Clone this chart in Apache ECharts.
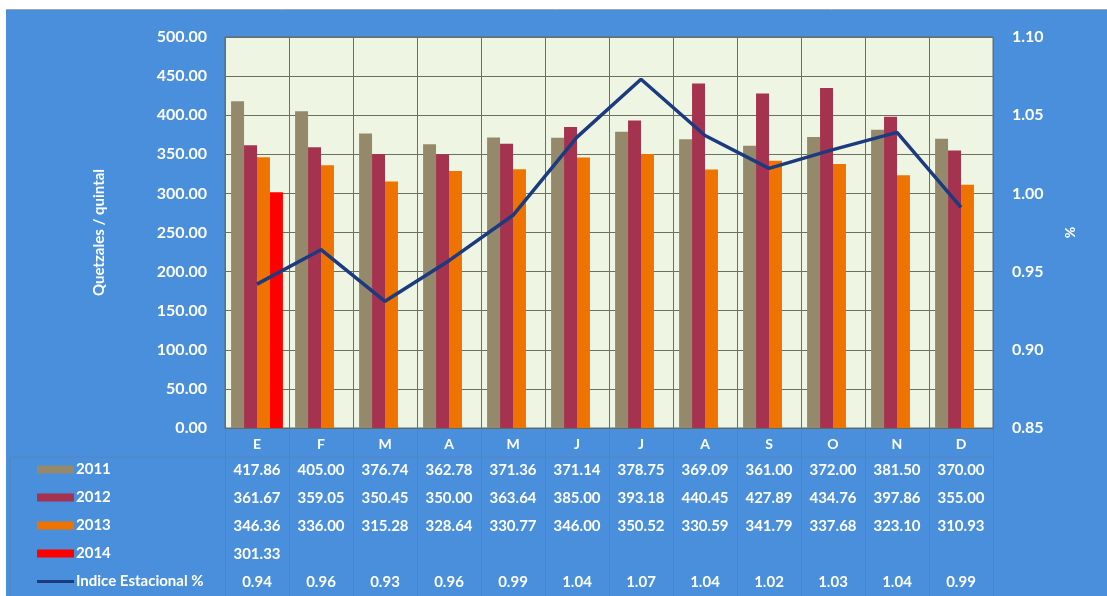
<!DOCTYPE html>
<html>
<head>
<meta charset="utf-8">
<script src="https://cdn.jsdelivr.net/npm/echarts@6/dist/echarts.min.js"></script>
<style>
html,body{margin:0;padding:0;background:#ffffff;}
#c{width:1107px;height:596px;}
</style>
</head>
<body>
<div id="c"></div>
<script>
const months = ['E','F','M','A','M','J','J','A','S','O','N','D'];
const s2011 = [417.86,405.00,376.74,362.78,371.36,371.14,378.75,369.09,361.00,372.00,381.50,370.00];
const s2012 = [361.67,359.05,350.45,350.00,363.64,385.00,393.18,440.45,427.89,434.76,397.86,355.00];
const s2013 = [346.36,336.00,315.28,328.64,330.77,346.00,350.52,330.59,341.79,337.68,323.10,310.93];
const s2014 = [301.33,null,null,null,null,null,null,null,null,null,null,null];
const indice = [0.942,0.964,0.931,0.957,0.986,1.036,1.073,1.037,1.016,1.028,1.039,0.991];
const seriesNames = ['2011','2012','2013','2014','Indice Estacional %'];
const leftTicks = {min:0,max:500,interval:50};
const rightTicks = {min:0.85,max:1.10,interval:0.05};

const FONT = 'Lato';
const colors = ['#948a6b','#a5334f','#ee7300','#ff0000','#1c3a80'];
const rowCenters = [471,499,527,555,583];

const fmt2 = v => (v === null || v === undefined) ? '' : v.toFixed(2);
const rows = [s2011,s2012,s2013,s2014,indice];

const xAxes = [{
  type:'category', data: months, position:'bottom', gridIndex:0,
  axisLine:{show:true,lineStyle:{color:'#5f6b6e',width:1}},
  axisTick:{show:true,length:168,lineStyle:{color:'rgba(110,115,150,0.55)',width:1}},
  axisLabel:{color:'#ffffff',fontFamily:FONT,fontWeight:'bold',fontSize:14,margin:9},
  splitLine:{show:true,lineStyle:{color:'#6d6d60',width:1}}
}];
rows.forEach((r,i)=>{
  xAxes.push({
    type:'category', data: r.map(fmt2), position:'bottom', gridIndex:0,
    offset: rowCenters[i] - 436,
    axisLine:{show:false}, axisTick:{show:false}, splitLine:{show:false},
    axisLabel:{color:'#ffffff',fontFamily:FONT,fontWeight:'bold',fontSize:15,margin:0,interval:0}
  });
});

const legends = seriesNames.map((n,i)=>({
  data:[{name:n, icon:'rect'}],
  left:37, top: rowCenters[i]-9, orient:'vertical',
  itemWidth:37, itemHeight: i===4 ? 3 : 8, itemGap:0, padding:0,
  selectedMode:false,
  textStyle:{color:'#ffffff',fontFamily:FONT,fontWeight:'bold',fontSize:15,padding:[0,0,0,-3]}
}));

const barSeries = [s2011,s2012,s2013,s2014].map((d,i)=>({
  name: seriesNames[i], type:'bar', data:d, xAxisIndex:0, yAxisIndex:0,
  barGap:'0%', barCategoryGap:'19%',
  itemStyle:{color:colors[i]}
}));

const option = {
  animation:false,
  backgroundColor:'#ffffff',
  graphic:[
    {type:'rect', z:-10, shape:{x:6,y:10,width:1101,height:586}, style:{fill:'#4a8fdc'}},
    {type:'line', z:-9, shape:{x1:6,y1:9.5,x2:1107,y2:9.5}, style:{stroke:'#9aa6b4',lineWidth:1}},
    {type:'polyline', z:-5, shape:{points:[[10,596],[10,457],[993,457]]}, style:{stroke:'rgba(110,115,150,0.45)',lineWidth:1,fill:null}}
  ],
  grid:{left:225,right:114,top:37,bottom:168,show:true,backgroundColor:'#eff5e3',borderColor:'#5f6b6e',borderWidth:1,containLabel:false},
  legend: legends,
  xAxis: xAxes,
  yAxis:[
    {type:'value', min:leftTicks.min, max:leftTicks.max, interval:leftTicks.interval, position:'left',
     name:'Quetzales / quintal', nameLocation:'middle', nameGap:118, nameRotate:90,
     nameTextStyle:{color:'#ffffff',fontFamily:FONT,fontWeight:'bold',fontSize:15},
     axisLine:{show:false}, axisTick:{show:false},
     axisLabel:{color:'#ffffff',fontFamily:FONT,fontWeight:'bold',fontSize:16,margin:18,formatter:v=>v.toFixed(2)},
     splitLine:{show:true,lineStyle:{color:'#6d6d60',width:1}}},
    {type:'value', min:rightTicks.min, max:rightTicks.max, interval:rightTicks.interval, position:'right',
     name:'%', nameLocation:'middle', nameGap:70, nameRotate:-90,
     nameTextStyle:{color:'#ffffff',fontFamily:FONT,fontWeight:'bold',fontSize:14},
     axisLine:{show:false}, axisTick:{show:false},
     axisLabel:{color:'#ffffff',fontFamily:FONT,fontWeight:'bold',fontSize:16,margin:19,formatter:v=>v.toFixed(2)},
     splitLine:{show:false}}
  ],
  series: barSeries.concat([{
    name: seriesNames[4], type:'line', data: indice, xAxisIndex:0, yAxisIndex:1,
    symbol:'none', lineStyle:{color:colors[4],width:3.5}, itemStyle:{color:colors[4]}, z:5
  }])
};
const chart = echarts.init(document.getElementById('c'));
chart.setOption(option);
</script>
</body>
</html>
